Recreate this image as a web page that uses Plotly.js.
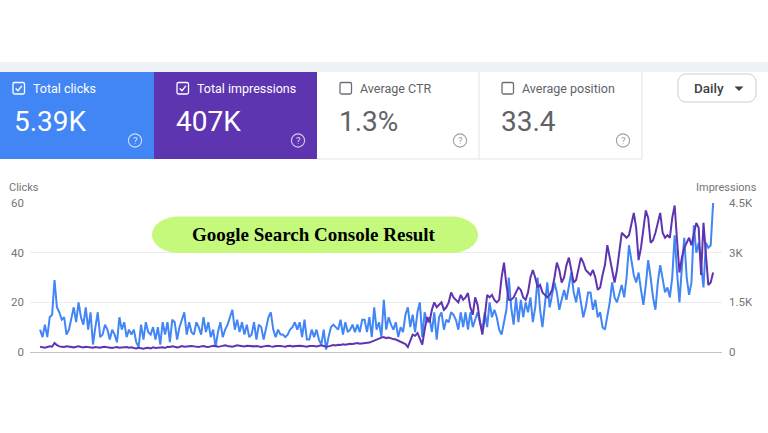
<!DOCTYPE html>
<html><head><meta charset="utf-8">
<script src="https://cdn.plot.ly/plotly-3.0.1.min.js"></script>
<style>html,body{margin:0;padding:0;background:#fff}#chart{width:768px;height:433px}</style>
</head><body><div id="chart"></div>
<script>
// ---- data (daily) ----
const clicks = [
 9,6,11,6,14,15,29,18,16,13,14,7,9,14,18,12,20,14,11,18,9,16,3,10,16,6,7,11,9,5,9,7,4,14,9,12,6,9,7,9,4,2,
 11,5,12,8,7,10,5,10,3,12,7,12,4,13,12,5,10,13,16,7,12,8,7,12,10,7,14,8,12,6,9,2,8,12,6,9,11,14,17,9,13,8,12,7,11,6,7,
 12,5,11,10,5,9,14,16,9,6,9,7,7,6,7,9,10,12,9,12,6,13,5,5,9,6,9,5,3,9,1,6,10,11,10,9,13,7,12,8,9,11,8,11,8,13,13,
 8,14,6,18,9,12,6,21,9,14,11,9,12,6,10,8,15,18,10,15,8,16,20,6,16,12,14,8,16,5,14,16,9,13,12,16,15,13,9,16,10,16,9,16,10,13,16,12,9,16,10,20,14,17,14,
 9,7,12,17,30,18,11,22,12,21,14,20,16,22,12,18,30,17,10,20,28,18,23,28,24,17,21,25,21,27,32,24,20,26,20,14,18,24,
 24,17,21,14,16,10,9,14,20,28,22,20,24,27,22,30,43,36,31,28,32,25,19,27,37,30,22,17,28,35,30,24,26,22,30,47,32,20,34,46,30,23,28,51,40,44,35,26,44,42,43,60
];
const impressions = [
 160,140,130,150,170,160,270,210,170,160,150,170,160,150,140,160,170,150,140,160,150,140,130,150,140,130,150,160,140,130,120,140,150,130,140,160,150,130,140,120,110,130,
 110,100,120,130,110,140,120,130,150,140,120,160,150,170,160,140,150,180,160,170,190,180,170,160,150,170,180,160,150,170,190,180,160,170,190,200,180,170,160,180,200,190,180,170,190,180,170,
 170,180,160,150,170,180,190,170,160,180,190,180,170,160,180,190,170,180,200,190,180,170,160,180,190,180,170,190,200,180,160,170,190,210,200,220,210,230,220,240,250,240,260,270,250,260,270,
 270,285,315,345,390,420,435,450,420,435,405,390,375,345,315,285,240,150,338,525,488,570,405,225,675,1050,900,1275,1500,1350,1425,1500,1275,1350,1500,1800,1650,1575,1500,1725,1575,1650,1780,1350,1125,1650,1425,900,525,1050,1725,1650,1725,1575,1500,
 1575,2250,2700,2025,1575,1575,1650,1800,1950,1875,1650,1575,1800,2250,2475,2250,1950,2025,1800,1725,1650,1725,1875,2250,2700,2475,2100,2250,2625,2850,2475,2100,2175,2475,2850,2700,2475,2400,
 2325,2475,2250,1875,1950,2325,2625,3225,2850,2400,2100,2475,3000,3600,3525,3450,3525,3900,4200,3750,2775,3150,3750,4275,4050,3300,3375,3600,3900,4200,3600,3450,3525,3450,4050,4425,3375,2400,2850,3150,3300,3450,3225,3600,3900,3750,2325,3900,3000,2025,2100,2400
];
const clickTicks = [0, 20, 40, 60];
const clickTickText = ['0', '20', '40', '60'];
const impressionTicks = [0, 1500, 3000, 4500];
const impressionTickText = ['0', '1.5K', '3K', '4.5K'];
const cardLabels = ['Total clicks', 'Total impressions', 'Average CTR', 'Average position'];
const cardValues = ['5.39K', '407K', '1.3%', '33.4'];
const cardChecked = [true, true, false, false];
const chartTitle = 'Google Search Console Result';

// ---- layout helpers (pixel -> paper, margins are 0) ----
const W = 768, H = 433;
const px = x => x / W, py = y => 1 - y / H;
const P = (x, y) => px(x) + ',' + py(y);
function rr(x0, y0, x1, y1, rx, ry) {
  const kx = 0.5523 * rx, ky = 0.5523 * ry;
  return 'M' + P(x0 + rx, y0) + ' L' + P(x1 - rx, y0) +
    ' C' + P(x1 - rx + kx, y0) + ' ' + P(x1, y0 + ry - ky) + ' ' + P(x1, y0 + ry) +
    ' L' + P(x1, y1 - ry) +
    ' C' + P(x1, y1 - ry + ky) + ' ' + P(x1 - rx + kx, y1) + ' ' + P(x1 - rx, y1) +
    ' L' + P(x0 + rx, y1) +
    ' C' + P(x0 + rx - kx, y1) + ' ' + P(x0, y1 - ry + ky) + ' ' + P(x0, y1 - ry) +
    ' L' + P(x0, y0 + ry) +
    ' C' + P(x0, y0 + ry - ky) + ' ' + P(x0 + rx - kx, y0) + ' ' + P(x0 + rx, y0) + ' Z';
}
const BLUE = '#4285f4', PURPLE = '#5e35b1', GRAY = '#5f6368';
const cardX = [0, 154, 317, 479, 642];
const cardFill = [BLUE, PURPLE, '#ffffff', '#ffffff'];
const shapes = [], annotations = [];
const FONT = 'Roboto, Arial, sans-serif';

shapes.push({type: 'rect', xref: 'paper', yref: 'paper', x0: 0, x1: 1, y0: py(72), y1: py(62),
  fillcolor: '#eef1f5', line: {width: 0}, layer: 'above'});
cardLabels.forEach((lab, i) => {
  const x0 = cardX[i], x1 = cardX[i + 1];
  const on = i < 2;
  const fg = on ? '#ffffff' : GRAY;
  shapes.push({type: 'rect', xref: 'paper', yref: 'paper', x0: px(x0), x1: px(x1), y0: py(159), y1: py(72),
    fillcolor: cardFill[i], line: {width: 0}, layer: 'above'});
  // checkbox
  const cbx = x0 + (i === 0 ? 13 : 23);
  shapes.push({type: 'path', xref: 'paper', yref: 'paper', path: rr(cbx, 82.5, cbx + 11.5, 94, 1.5, 1.5),
    line: {color: on ? '#ffffff' : '#6b6f74', width: 1.3}, fillcolor: 'rgba(0,0,0,0)', layer: 'above'});
  if (cardChecked[i]) {
    shapes.push({type: 'path', xref: 'paper', yref: 'paper',
      path: 'M' + P(cbx + 2.7, 88.4) + ' L' + P(cbx + 5, 90.8) + ' L' + P(cbx + 8.9, 85.9),
      line: {color: '#ffffff', width: 1.4}, layer: 'above'});
  }
  annotations.push({xref: 'paper', yref: 'paper', x: px(cbx + 18), y: py(88.5), xanchor: 'left', yanchor: 'middle',
    text: lab, showarrow: false, font: {family: FONT, size: 12.5, color: fg}});
  annotations.push({xref: 'paper', yref: 'paper', x: px(x0 + (i === 0 ? 12 : 20)), y: py(121.5), xanchor: 'left', yanchor: 'middle',
    text: cardValues[i], showarrow: false, font: {family: FONT, size: 28, color: on ? '#ffffff' : '#5f6368'}});
  // help icon
  const hx = x1 - 19, hy = 140.5;
  shapes.push({type: 'circle', xref: 'paper', yref: 'paper', x0: px(hx - 6.6), x1: px(hx + 6.6), y0: py(hy + 6.6), y1: py(hy - 6.6),
    line: {color: on ? 'rgba(255,255,255,0.75)' : '#9aa0a6', width: 1.1}, layer: 'above'});
  annotations.push({xref: 'paper', yref: 'paper', x: px(hx), y: py(hy + 0.5), xanchor: 'center', yanchor: 'middle',
    text: '?', showarrow: false, font: {family: FONT, size: 9.5, color: on ? 'rgba(255,255,255,0.8)' : '#9aa0a6'}});
});
// borders of white cards
[[479, 72, 479, 159], [642, 72, 642, 159], [317, 159, 642, 159]].forEach(s => {
  shapes.push({type: 'line', xref: 'paper', yref: 'paper', x0: px(s[0]), y0: py(s[1]), x1: px(s[2]), y1: py(s[3]),
    line: {color: '#e3e3e3', width: 1}, layer: 'above'});
});
// Daily button
shapes.push({type: 'path', xref: 'paper', yref: 'paper', path: rr(678, 74, 756, 102, 8, 8),
  line: {color: '#c8cbcf', width: 1}, fillcolor: '#ffffff', layer: 'above'});
annotations.push({xref: 'paper', yref: 'paper', x: px(692), y: py(88), xanchor: 'left', yanchor: 'middle',
  text: 'Daily', showarrow: false, font: {family: FONT, size: 13.5, color: '#3c4043', weight: 500}});
shapes.push({type: 'path', xref: 'paper', yref: 'paper',
  path: 'M' + P(734.5, 86.5) + ' L' + P(743.5, 86.5) + ' L' + P(739, 91) + ' Z',
  fillcolor: '#3c4043', line: {width: 0}, layer: 'above'});
// pill title
shapes.push({type: 'path', xref: 'paper', yref: 'paper', path: rr(152, 216.5, 478, 253, 27, 18.25),
  fillcolor: '#c5f97c', line: {width: 0}, layer: 'above'});
annotations.push({xref: 'paper', yref: 'paper', x: px(314), y: py(234.5), xanchor: 'center', yanchor: 'middle',
  text: '<b>' + chartTitle + '</b>', showarrow: false, font: {family: '"Liberation Serif", "Times New Roman", serif', size: 19, color: '#000000'}});
// axis captions
annotations.push({xref: 'paper', yref: 'paper', x: px(7), y: py(187), xanchor: 'left', yanchor: 'middle',
  text: 'Clicks', showarrow: false, font: {family: FONT, size: 11, color: '#757575'}});
annotations.push({xref: 'paper', yref: 'paper', x: px(759), y: py(187), xanchor: 'right', yanchor: 'middle',
  text: 'Impressions', showarrow: false, font: {family: FONT, size: 11, color: '#757575'}});

const traces = [
  {y: impressions, yaxis: 'y2', type: 'scatter', mode: 'lines', name: 'Impressions',
   line: {color: PURPLE, width: 2}, hoverinfo: 'skip'},
  {y: clicks, yaxis: 'y', type: 'scatter', mode: 'lines', name: 'Clicks',
   line: {color: BLUE, width: 2}, hoverinfo: 'skip'}
];
const n = clicks.length;
const layout = {
  width: W, height: H, autosize: false,
  margin: {l: 0, r: 0, t: 0, b: 0, pad: 0},
  paper_bgcolor: '#ffffff', plot_bgcolor: '#ffffff',
  showlegend: false,
  xaxis: {domain: [px(30), px(722)], range: [-4.2, n - 1 + 3.7], showgrid: false, zeroline: false,
    showticklabels: false, ticks: '', showline: false, fixedrange: true},
  yaxis: {domain: [py(352), py(203)], range: [0, 60], tickvals: clickTicks, ticktext: clickTickText,
    showgrid: true, gridcolor: '#ececec', gridwidth: 1, zeroline: true, zerolinecolor: '#c4c4c4', zerolinewidth: 1,
    ticks: '', ticklabelstandoff: 5, tickfont: {family: FONT, size: 11.5, color: '#757575'}, showline: false},
  yaxis2: {overlaying: 'y', side: 'right', range: [0, 4500], tickvals: impressionTicks, ticktext: impressionTickText,
    showgrid: false, zeroline: false, ticks: '', ticklabelstandoff: 6,
    tickfont: {family: FONT, size: 11.5, color: '#757575'}, showline: false},
  shapes: shapes, annotations: annotations
};
Plotly.newPlot('chart', traces, layout, {displayModeBar: false, staticPlot: true});
</script></body></html>
